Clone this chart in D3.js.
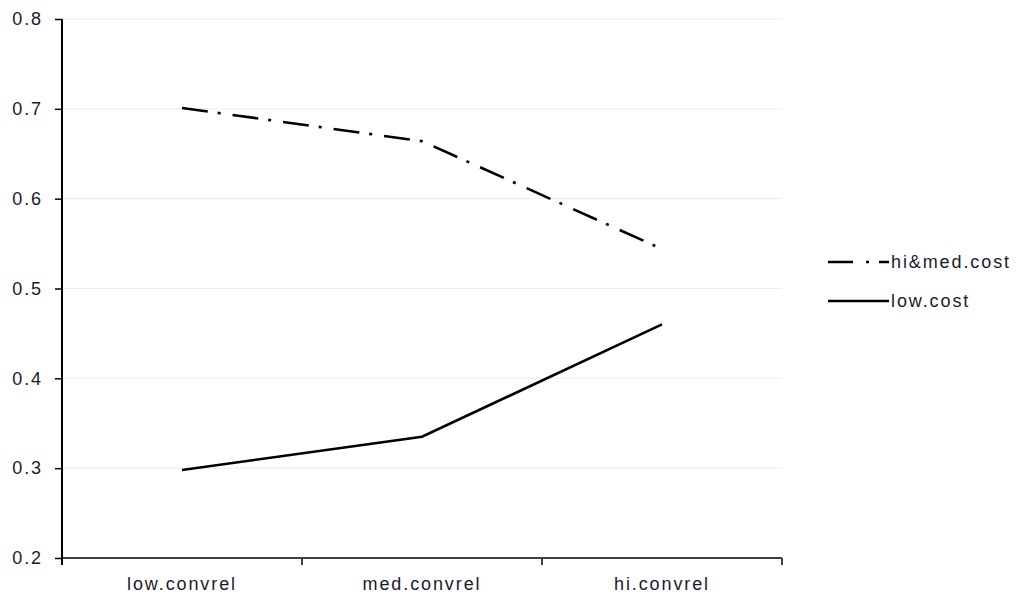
<!DOCTYPE html>
<html><head><meta charset="utf-8">
<script src="https://cdn.jsdelivr.net/npm/d3@7"></script>
<style>body{margin:0;background:#fff}svg{display:block}text{font-family:"Liberation Sans",Arial,sans-serif}</style>
</head><body><svg id="c" width="1021" height="596"></svg>
<script>
const categories = ["low.convrel","med.convrel","hi.convrel"];
const seriesNames = ["hi&med.cost","low.cost"];
const hiMedCost = [0.701, 0.664, 0.544];
const lowCost = [0.298, 0.335, 0.460];
const yTicks = [0.2,0.3,0.4,0.5,0.6,0.7,0.8];

const svg = d3.select("#c");
const x0 = 62, x1 = 782, yTop = 19, yBot = 558;
const x = d3.scaleBand().domain(categories).range([x0,x1]);
const y = d3.scaleLinear().domain([0.2,0.8]).range([yBot,yTop]);
const FS = 18, LS = 1.9, TC = "#1a1a2e";

// gridlines
svg.append("g").selectAll("line").data(yTicks.filter(d=>d>0.2)).join("line")
  .attr("x1",x0).attr("x2",x1).attr("y1",d=>y(d)).attr("y2",d=>y(d))
  .attr("stroke","#ececec").attr("stroke-width",1);

// x axis
const xa = svg.append("g").attr("transform",`translate(0,${yBot})`)
  .call(d3.axisBottom(x).tickSize(0).tickPadding(19));
xa.select(".domain").remove();
xa.selectAll("text").attr("font-size",FS).attr("fill",TC).attr("font-family","Liberation Sans, Arial, sans-serif").attr("letter-spacing",LS);
svg.append("line").attr("x1",x0).attr("x2",x1).attr("y1",yBot).attr("y2",yBot).attr("stroke","#404040").attr("stroke-width",2);
const bounds = [x0, ...categories.map(c=>x(c)+x.bandwidth())];
svg.append("g").selectAll("line").data(bounds.slice(1)).join("line")
  .attr("x1",d=>d).attr("x2",d=>d).attr("y1",yBot).attr("y2",yBot+7)
  .attr("stroke","#404040").attr("stroke-width",2);

// y axis
const ya = svg.append("g").attr("transform",`translate(${x0},0)`)
  .call(d3.axisLeft(y).tickValues(yTicks).tickFormat(d3.format(".1f")).tickSize(7).tickPadding(12));
ya.select(".domain").remove();
ya.selectAll(".tick line").attr("stroke","#000").attr("stroke-width",1.5);
ya.selectAll("text").attr("font-size",FS).attr("fill",TC).attr("font-family","Liberation Sans, Arial, sans-serif").attr("letter-spacing",LS);
svg.append("line").attr("x1",x0).attr("x2",x0).attr("y1",yTop).attr("y2",yBot+7).attr("stroke","#000").attr("stroke-width",2);

const line = d3.line().x((d,i)=>x(categories[i])+x.bandwidth()/2).y(d=>y(d));
const dashes = ["26,10,3,12", null];
[hiMedCost, lowCost].forEach((s,k)=>{
  svg.append("path").attr("d",line(s)).attr("fill","none").attr("stroke","#000")
    .attr("stroke-width",2.6).attr("stroke-dasharray",dashes[k]);
});

// legend
const lg = svg.append("g");
const ly = [262, 301];
seriesNames.forEach((n,k)=>{
  lg.append("line").attr("x1",828).attr("x2",889).attr("y1",ly[k]).attr("y2",ly[k])
    .attr("stroke","#000").attr("stroke-width",2.6).attr("stroke-dasharray",k===0?"25,13,3,10":null);
  lg.append("text").attr("x",891).attr("y",ly[k]).attr("dy","0.35em").attr("font-size",FS)
    .attr("letter-spacing",LS).attr("fill",TC).text(n);
});
</script></body></html>
